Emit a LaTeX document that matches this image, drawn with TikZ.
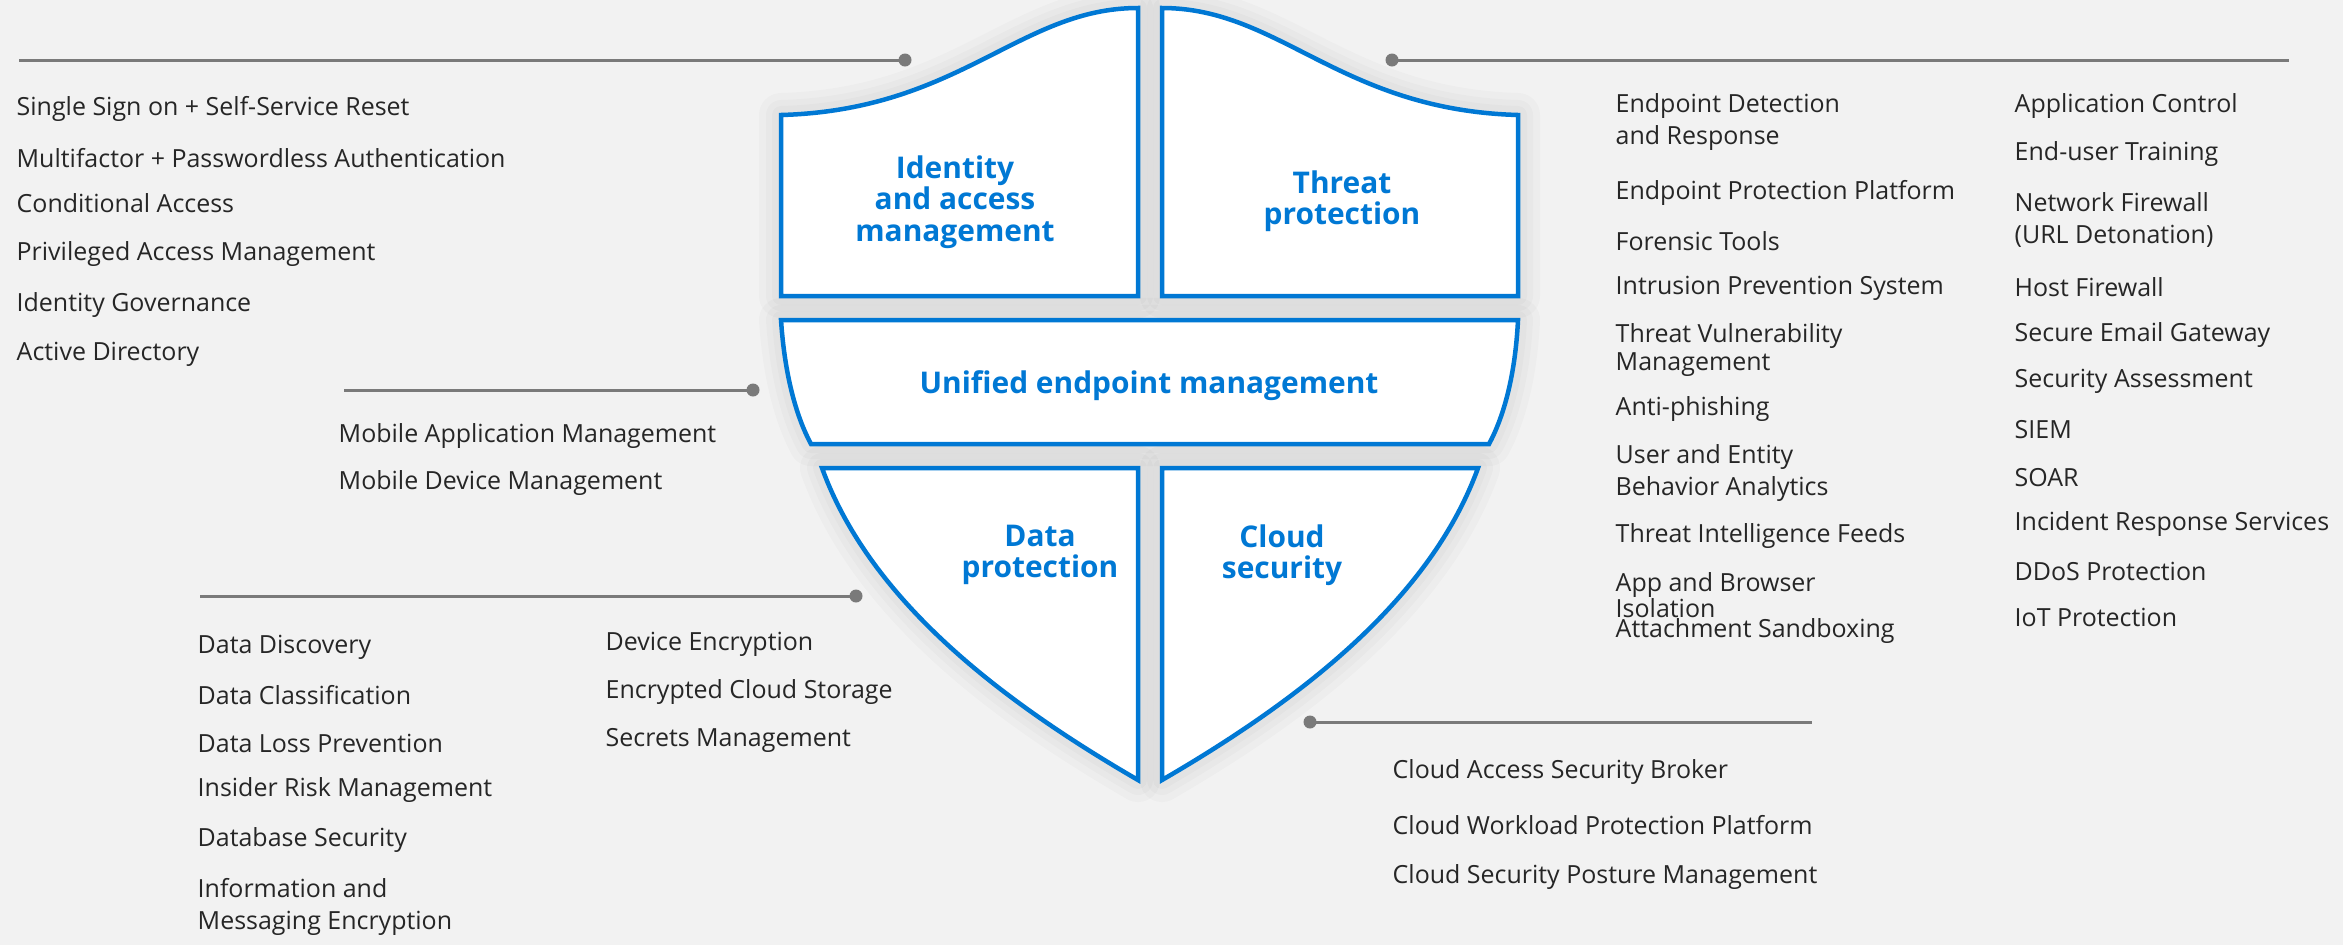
\documentclass[tikz,border=0pt]{standalone}
\usepackage{fontspec}
\setmainfont{Open Sans}
\usetikzlibrary{positioning}
\definecolor{bggray}{RGB}{242,242,242}
\definecolor{msblue}{RGB}{0,120,212}
\definecolor{leadgray}{RGB}{122,122,122}
\definecolor{textgray}{RGB}{38,38,38}
\newcommand\itemfont{\fontsize{7.1}{8.9}\selectfont}
\newcommand\titlefont{\bfseries\fontsize{8.5}{8.9}\selectfont}

\begin{document}
\begin{tikzpicture}[x=0.01cm, y=-0.01cm,
  panel/.style={draw=msblue, line width=0.045cm, fill=white,
    preaction={draw=black, opacity=0.018, line width=0.44cm, line join=round},
    preaction={draw=black, opacity=0.018, line width=0.30cm, line join=round},
    preaction={draw=black, opacity=0.018, line width=0.18cm, line join=round}},
  title/.style={align=center, text=msblue, font=\titlefont, yshift=-0.02cm},
  item/.style={anchor=west, align=left, inner sep=0pt, text=textgray, font=\itemfont, yshift=-0.03cm},
  leader/.style={draw=leadgray, line width=0.03cm},
  dot/.style={circle, fill=leadgray, inner sep=0pt, minimum size=0.13cm}]
  \fill[bggray] (0,0) rectangle (2343,945);
  \useasboundingbox (0,0) rectangle (2343,945);

  \begin{scope}
    \draw[panel] (781,115) .. controls (960,110) and (1020,8) .. (1138,8) -- (1138,296) -- (781,296) -- cycle; % identity
    \draw[panel] (1518,115) .. controls (1340,110) and (1280,8) .. (1162,8) -- (1162,296) -- (1518,296) -- cycle; % threat
    \draw[panel] (781,320) -- (1518,320) .. controls (1515,380) and (1502,420) .. (1489,444) -- (811,444) .. controls (798,420) and (785,380) .. (781,320) -- cycle; % endpoint
    \draw[panel] (822,468) -- (1138,468) -- (1138,780) .. controls (1000,700) and (870,600) .. (822,468) -- cycle; % data
    \draw[panel] (1478,468) -- (1162,468) -- (1162,780) .. controls (1300,700) and (1430,600) .. (1478,468) -- cycle; % cloud

    \node[title] (iam) at (955,200) {Identity\\ and access\\ management};
    \node[title] (threat) at (1342,199) {Threat\\ protection};
    \node[title] (uem) at (1149,384) {Unified endpoint management};
    \node[title] (data) at (1040,553) {Data\\ protection};
    \node[title] (cloud) at (1282,553) {Cloud\\ security};
  \end{scope}

  % leader lines
  \node[dot] (dotIAM) at (905,60) {};
  \coordinate (endIAM) at (19,60);
  \draw[leader] (endIAM) -- (dotIAM.center);
  \node[dot] (dotThreat) at (1392,60) {};
  \coordinate (endThreat) at (2289,60);
  \draw[leader] (dotThreat.center) -- (endThreat);
  \node[dot] (dotUEM) at (753,390) {};
  \coordinate (endUEM) at (344,390);
  \draw[leader] (endUEM) -- (dotUEM.center);
  \node[dot] (dotData) at (856,596) {};
  \coordinate (endData) at (200,596);
  \draw[leader] (endData) -- (dotData.center);
  \node[dot] (dotCloud) at (1310,722) {};
  \coordinate (endCloud) at (1812,722);
  \draw[leader] (dotCloud.center) -- (endCloud);

  % identity and access management
  \node[item] (sso) at (16,106) {Single Sign on + Self-Service Reset};
  \node[item] (mfa) at (16,155) {Multifactor + Passwordless Authentication};
  \node[item] (ca) at (16,200) {Conditional Access};
  \node[item] (pam) at (16,251) {Privileged Access Management};
  \node[item] (ig) at (16,302) {Identity Governance};
  \node[item] (ad) at (16,351) {Active Directory};

  % unified endpoint management
  \node[item] (mam) at (338,433) {Mobile Application Management};
  \node[item] (mdm) at (338,480) {Mobile Device Management};

  % data protection
  \node[item] (disc) at (197,644) {Data Discovery};
  \node[item] (class) at (197,692) {Data Classification};
  \node[item] (dlp) at (197,740) {Data Loss Prevention};
  \node[item] (irm) at (197,787) {Insider Risk Management};
  \node[item] (dbs) at (197,837) {Database Security};
  \node[item] (ime) at (197,904) {Information and\\ Messaging Encryption};
  \node[item] (dev) at (605,641) {Device Encryption};
  \node[item] (ecs) at (605,689) {Encrypted Cloud Storage};
  \node[item] (sec) at (605,737) {Secrets Management};

  % cloud security
  \node[item] (casb) at (1392,769) {Cloud Access Security Broker};
  \node[item] (cwpp) at (1392,822) {Cloud Workload Protection Platform};
  \node[item] (cspm) at (1392,874) {Cloud Security Posture Management};

  % threat protection
  \node[item] (edr) at (1615,119) {Endpoint Detection\\ and Response};
  \node[item] (epp) at (1615,190) {Endpoint Protection Platform};
  \node[item] (ft) at (1615,238) {Forensic Tools};
  \node[item] (ips) at (1615,285) {Intrusion Prevention System};
  \node[item] (tvm) at (1615,347) {Threat Vulnerability\\[-1.2pt] Management};
  \node[item] (ap) at (1615,406) {Anti-phishing};
  \node[item] (ueba) at (1615,470) {User and Entity\\ Behavior Analytics};
  \node[item] (tif) at (1615,533) {Threat Intelligence Feeds};
  \node[item] (abi) at (1615,592) {App and Browser\\[-1.5pt] Isolation};
  \node[item] (as) at (1615,628) {Attachment Sandboxing};
  \node[item] (ac) at (2014,103) {Application Control};
  \node[item] (eut) at (2014,151) {End-user Training};
  \node[item] (nf) at (2014,217) {Network Firewall\\ (URL Detonation)};
  \node[item] (hf) at (2014,284) {Host Firewall};
  \node[item] (seg) at (2014,332) {Secure Email Gateway};
  \node[item] (sa) at (2014,378) {Security Assessment};
  \node[item] (siem) at (2014,427) {SIEM};
  \node[item] (soar) at (2014,475) {SOAR};
  \node[item] (irs) at (2014,521) {Incident Response Services};
  \node[item] (ddos) at (2014,568) {DDoS Protection};
  \node[item] (iot) at (2014,614) {IoT Protection};
\end{tikzpicture}
\end{document}
